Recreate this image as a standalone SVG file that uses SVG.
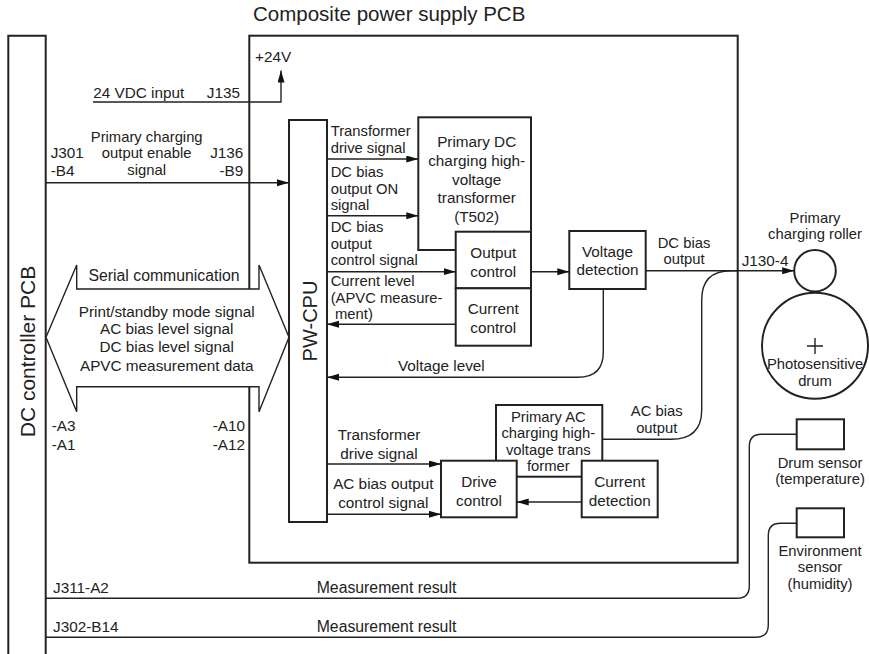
<svg xmlns="http://www.w3.org/2000/svg" width="869" height="654" viewBox="0 0 869 654">
<defs>
<marker id="arr" markerUnits="userSpaceOnUse" markerWidth="13" markerHeight="8" refX="12" refY="3.5" orient="auto">
<path d="M0,0 L12,3.5 L0,7 z" fill="#111"/>
</marker>
<style>
text{font-family:"Liberation Sans",Arial,Helvetica,sans-serif;font-size:15.3px;fill:#222}
.c{text-anchor:middle}
.e{text-anchor:end}
.s{font-size:14.8px}
.box{fill:#fff;stroke:#222;stroke-width:2}
.ln{fill:none;stroke:#222;stroke-width:1.4}
.ar{fill:none;stroke:#222;stroke-width:1.4;marker-end:url(#arr)}
</style>
</defs>
<rect width="869" height="654" fill="#fff"/>

<g id="dc-controller-pcb">
<path d="M8.3,660 V35.7 H45.7 V660" class="box" fill="none"/>
<text transform="translate(35,351.5) rotate(-90)" class="c" style="font-size:21px">DC controller PCB</text>
</g>

<g id="composite-psu-pcb">
<rect x="249.3" y="35.7" width="488.4" height="527" class="box"/>
<text x="253" y="21" style="font-size:20.5px">Composite power supply PCB</text>
<text x="255" y="62">+24V</text>
</g>

<g id="pw-cpu">
<rect x="289" y="120" width="38" height="402" class="box"/>
<text transform="translate(316.5,321) rotate(-90)" class="c" style="font-size:20px">PW-CPU</text>
</g>

<g id="dc-transformer">
<rect x="418.3" y="117.3" width="112.7" height="132.7" class="box"/>
<text x="476.7" y="147" class="c">Primary DC</text>
<text x="476.7" y="166" class="c">charging high-</text>
<text x="476.7" y="184.5" class="c">voltage</text>
<text x="476.7" y="203" class="c">transformer</text>
<text x="476.7" y="221.5" class="c">(T502)</text>
</g>

<g id="output-control">
<rect x="455.7" y="231.7" width="75.3" height="56.6" class="box"/>
<text x="493.3" y="257.5" class="c">Output</text>
<text x="493.3" y="276.5" class="c">control</text>
</g>

<g id="current-control">
<rect x="455.7" y="288.3" width="75.3" height="57.4" class="box"/>
<text x="493.3" y="313.8" class="c">Current</text>
<text x="493.3" y="332.8" class="c">control</text>
</g>

<g id="voltage-detection">
<rect x="569.3" y="231" width="76.4" height="58" class="box"/>
<text x="607.5" y="256.5" class="c">Voltage</text>
<text x="607.5" y="275" class="c">detection</text>
</g>

<g id="ac-transformer">
<rect x="496" y="405" width="106.3" height="71.7" class="box"/>
<text x="548.3" y="421.5" class="c s">Primary AC</text>
<text x="548.3" y="438" class="c s">charging high-</text>
<text x="548.3" y="454.5" class="c s">voltage trans</text>
<text x="548.3" y="471" class="c s">former</text>
</g>

<g id="drive-control">
<rect x="441" y="460.7" width="75.7" height="56.6" class="box"/>
<text x="479" y="487" class="c">Drive</text>
<text x="479" y="505.5" class="c">control</text>
</g>

<g id="current-detection">
<rect x="581.7" y="460.7" width="76" height="56.6" class="box"/>
<text x="619.7" y="487" class="c">Current</text>
<text x="619.7" y="505.5" class="c">detection</text>
</g>

<g id="charging-roller">
<circle cx="815" cy="270.7" r="20.8" class="box"/>
<text x="815" y="222.5" class="c s">Primary</text>
<text x="815" y="239" class="c s">charging roller</text>
</g>

<g id="photosensitive-drum">
<circle cx="815" cy="345.7" r="53" class="box"/>
<path d="M807,346 H823 M815,338 V354" class="ln"/>
<text x="815" y="369" class="c s">Photosensitive</text>
<text x="815" y="385.5" class="c s">drum</text>
</g>

<g id="drum-sensor">
<rect x="796.7" y="419.3" width="47.3" height="30" class="box"/>
<text x="820" y="467.5" class="c s">Drum sensor</text>
<text x="820" y="484" class="c s">(temperature)</text>
</g>

<g id="environment-sensor">
<rect x="796.7" y="508.3" width="47.3" height="29" class="box"/>
<text x="820" y="555.5" class="c s">Environment</text>
<text x="820" y="572" class="c s">sensor</text>
<text x="820" y="588.5" class="c s">(humidity)</text>
</g>

<g id="connectors">
<path d="M93,102 H281 V70.5" class="ar"/>
<text x="93.3" y="98">24 VDC input</text>
<text x="240" y="98" class="e">J135</text>

<path d="M45.7,182.7 H289" class="ar"/>
<text x="146.7" y="141.5" class="c s">Primary charging</text>
<text x="146.7" y="158" class="c s">output enable</text>
<text x="146.7" y="175" class="c s">signal</text>
<text x="50.7" y="158">J301</text>
<text x="50.7" y="175.5">-B4</text>
<text x="243.3" y="158" class="e">J136</text>
<text x="243.3" y="175.5" class="e">-B9</text>

<path d="M327,159 H418.3" class="ar"/>
<text x="330.7" y="136" class="s">Transformer</text>
<text x="330.7" y="152.5" class="s">drive signal</text>
<path d="M327,215.7 H418.3" class="ar"/>
<text x="330.7" y="177" class="s">DC bias</text>
<text x="330.7" y="193.5" class="s">output ON</text>
<text x="330.7" y="210" class="s">signal</text>
<path d="M327,271.7 H455.7" class="ar"/>
<text x="330.7" y="232" class="s">DC bias</text>
<text x="330.7" y="248.5" class="s">output</text>
<text x="330.7" y="265" class="s">control signal</text>
<path d="M455.7,324.3 H327" class="ar"/>
<text x="330.7" y="286" class="s">Current level</text>
<text x="330.7" y="302.5" class="s">(APVC measure-</text>
<text x="335" y="319" class="s">ment)</text>

<path d="M531,271.7 H569.3" class="ar"/>
<path d="M645.7,270.7 H794.2" class="ar"/>
<text x="684" y="247.5" class="c s">DC bias</text>
<text x="684" y="264" class="c s">output</text>
<text x="741.7" y="265.5">J130-4</text>

<path d="M603.3,289 V352 Q603.3,377.3 578,377.3 H327" class="ar"/>
<text x="398" y="370.7">Voltage level</text>

<path d="M602.3,439.3 H671 Q701.7,439.3 701.7,410 V300 Q701.7,270.7 731,270.7 H737" class="ln"/>
<text x="656.7" y="416" class="c s">AC bias</text>
<text x="656.7" y="432.5" class="c s">output</text>

<path d="M327,464 H441" class="ar"/>
<text x="379" y="440" class="c">Transformer</text>
<text x="379" y="459" class="c">drive signal</text>
<path d="M327,514.3 H441" class="ar"/>
<text x="383.3" y="489" class="c">AC bias output</text>
<text x="383.3" y="507.5" class="c">control signal</text>
<path d="M581.7,502 H516.7" class="ar"/>

<path d="M45.7,598.3 H737 Q749.3,598.3 749.3,586 V446.5 Q749.3,434.3 761.5,434.3 H796.7" class="ln"/>
<text x="53" y="593">J311-A2</text>
<text x="316.7" y="593" style="font-size:15.8px">Measurement result</text>
<path d="M45.7,637.3 H756 Q768.3,637.3 768.3,625 V535.5 Q768.3,523.3 780.5,523.3 H796.7" class="ln"/>
<text x="53" y="632">J302-B14</text>
<text x="316.7" y="632" style="font-size:15.8px">Measurement result</text>
</g>

<g id="serial-communication">
<path d="M46,337.3 L76.7,265 V289 H259 V265 L289,337.3 L259,411.7 V386.7 H76.7 V411.7 Z" fill="#fff" stroke="#222" stroke-width="1.4"/>
<text x="164" y="281" class="c" style="font-size:15.8px">Serial communication</text>
<text x="166.7" y="316.5" class="c">Print/standby mode signal</text>
<text x="166.7" y="334" class="c">AC bias level signal</text>
<text x="166.7" y="352" class="c">DC bias level signal</text>
<text x="166.7" y="371" class="c">APVC measurement data</text>
<text x="51.7" y="431">-A3</text>
<text x="51.7" y="449.5">-A1</text>
<text x="245" y="431" class="e">-A10</text>
<text x="245" y="449.5" class="e">-A12</text>
</g>
</svg>
